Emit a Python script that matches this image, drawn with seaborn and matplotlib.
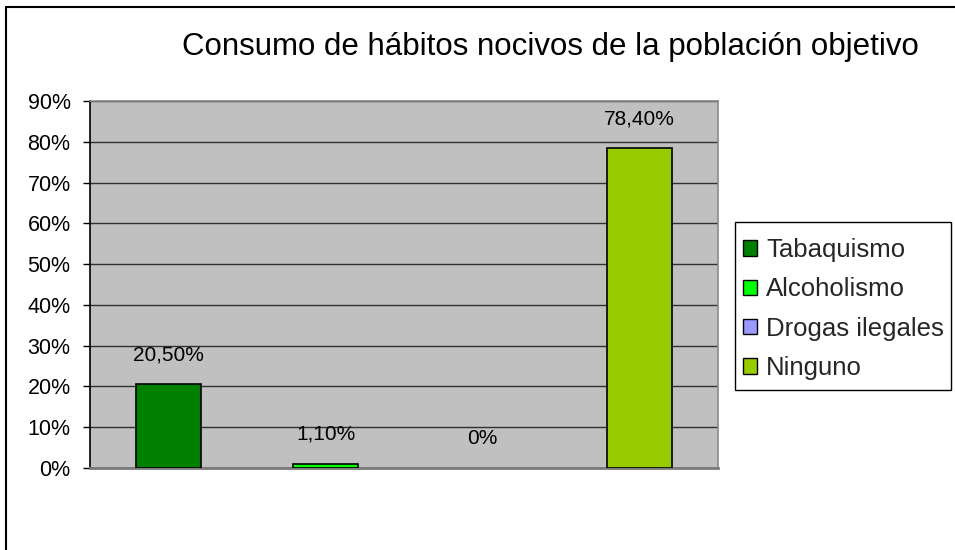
import matplotlib
matplotlib.use("Agg")
import matplotlib.pyplot as plt
import seaborn as sns
import pandas as pd
from matplotlib.patches import Patch, Rectangle
from matplotlib.lines import Line2D
from matplotlib.ticker import FixedLocator

categorias = ["Tabaquismo", "Alcoholismo", "Drogas ilegales", "Ninguno"]
valores = [20.5, 1.1, 0.0, 78.4]
etiquetas = ["20,50%", "1,10%", "0%", "78,40%"]
colores = ["#008000", "#00FF00", "#9999FF", "#99CC00"]
yticks = [0, 10, 20, 30, 40, 50, 60, 70, 80, 90]
ytick_labels = ["0%", "10%", "20%", "30%", "40%", "50%", "60%", "70%", "80%", "90%"]
titulo = "Consumo de hábitos nocivos de la población objetivo"

sns.set_style("white")
plt.rcParams["font.family"] = ["Liberation Sans", "DejaVu Sans"]

W, H = 955, 550
fig = plt.figure(figsize=(W / 100, H / 100), dpi=100)
fig.patch.set_facecolor("white")

# figure border (left and top visible)
fig.add_artist(Line2D([6 / W, 6 / W], [0, 1 - 7 / H], transform=fig.transFigure,
                      color="black", lw=1.5))
fig.add_artist(Line2D([6 / W, 1], [1 - 7 / H, 1 - 7 / H], transform=fig.transFigure,
                      color="black", lw=1.5))

ax = fig.add_axes([90 / W, (H - 468) / H, 628 / W, 367 / H])
ax.set_facecolor("#C0C0C0")

df = pd.DataFrame({"cat": categorias, "val": valores})
sns.barplot(data=df, x="cat", y="val", hue="cat", palette=colores, dodge=False,
            saturation=1, width=0.41, edgecolor="black", linewidth=1.2, ax=ax,
            legend=False, zorder=3)
for p in ax.patches:
    if p.get_height() == 0:
        p.set_visible(False)

ax.set_xlim(-0.5, 3.5)
ax.set_ylim(0, 90)
ax.yaxis.set_major_locator(FixedLocator(yticks))
ax.set_yticklabels(ytick_labels, fontsize=15.5)
ax.set_xticks([])
ax.set_xlabel("")
ax.set_ylabel("")
ax.grid(axis="y", color="#303030", lw=1, zorder=1)
ax.set_axisbelow(True)
ax.tick_params(axis="y", direction="out", length=5, width=1, color="black",
               left=True, pad=9, labelcolor="black")

for s in ["top", "right"]:
    ax.spines[s].set_color("#8a8a8a")
    ax.spines[s].set_linewidth(1.2)
ax.spines["bottom"].set_color("#7a7a7a")
ax.spines["bottom"].set_linewidth(2)
ax.spines["left"].set_color("black")
ax.spines["left"].set_linewidth(1.2)

for i, (v, lab) in enumerate(zip(valores, etiquetas)):
    ax.annotate(lab, xy=(i, v), xytext=(0, 21), textcoords="offset points",
                ha="center", va="center", fontsize=15, color="black")

fig.text(550 / W, 1 - 47 / H, titulo, ha="center", va="center", fontsize=22.5,
         color="black")

# legend frame
fig.add_artist(Rectangle((735 / W, 1 - 390 / H), 216 / W, 168 / H,
                         transform=fig.transFigure, facecolor="white",
                         edgecolor="black", lw=1))

handles = [Patch(facecolor=c, edgecolor="black", lw=1) for c in colores]
leg = fig.legend(handles, categorias, loc="upper left",
                 bbox_to_anchor=(743 / W, 1 - 238 / H), fontsize=18.5,
                 frameon=False, handlelength=0.55,
                 handleheight=0.55, handletextpad=0.35, labelspacing=0.6,
                 borderpad=0, borderaxespad=0)

fig.savefig("out.png", dpi=100, facecolor="white")
